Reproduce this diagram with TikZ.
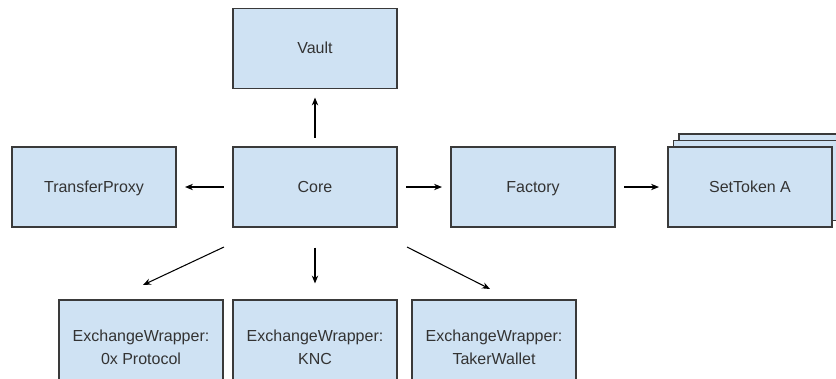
\documentclass[tikz,border=0pt]{standalone}
\usepackage{fontspec}
\setmainfont{Liberation Sans}
\usepackage{tikz}
\usetikzlibrary{arrows.meta}

\definecolor{boxblue}{HTML}{CFE2F3}
\definecolor{edgegray}{HTML}{3A3A3A}
\definecolor{textgray}{HTML}{333333}

\tikzset{
  box/.style={draw=edgegray, fill=boxblue, line width=0.6pt,
    minimum width=3.28cm, minimum height=1.6cm, inner sep=0pt,
    text height=1.6ex, text depth=0.45ex,
    align=center, text=textgray, font=\fontsize{9.1}{12.8}\selectfont},
  wrapbox/.style={box, minimum height=2.36cm},
  arr/.style={-{Stealth[length=4.5pt,width=3.6pt]}, line width=0.6pt,
    shorten <=0.17cm, shorten >=0.17cm}
}

\begin{document}
\begin{tikzpicture}[x=0.02cm,y=-0.02cm]
\useasboundingbox (0,0) rectangle (836,379);
% top and middle row
\node[box] (vault) at (315,48.5) {Vault};
\node[box] (proxy) at (94,187) {TransferProxy};
\node[box] (core) at (315,187) {Core};
\node[box] (factory) at (533,187) {Factory};
% stack of set tokens
\node[box] (set3) at (761,174) {};
\node[box] (set2) at (755.5,180.5) {};
\node[box] (setA) at (750,187) {SetToken A};
% exchange wrappers
\node[wrapbox] (wzero) at (141,359) {ExchangeWrapper:\\0x Protocol};
\node[wrapbox] (wknc) at (315,359) {ExchangeWrapper:\\KNC};
\node[wrapbox] (wtaker) at (494,359) {ExchangeWrapper:\\TakerWallet};
% connectors
\draw[arr] (core) -- (vault);
\draw[arr] (core) -- (proxy);
\draw[arr] (core) -- (factory);
\draw[arr] (factory) -- (setA);
\draw[arr, shorten <=0.4cm, shorten >=0.32cm] (core.south) -- (wknc.north);
\coordinate (czero) at (224,247);
\coordinate (ezero) at (143,285);
\coordinate (ctaker) at (407,247);
\coordinate (etaker) at (490,289);
\draw[arr, shorten <=0pt, shorten >=0pt] (czero) -- (ezero);
\draw[arr, shorten <=0pt, shorten >=0pt] (ctaker) -- (etaker);
\end{tikzpicture}
\end{document}
